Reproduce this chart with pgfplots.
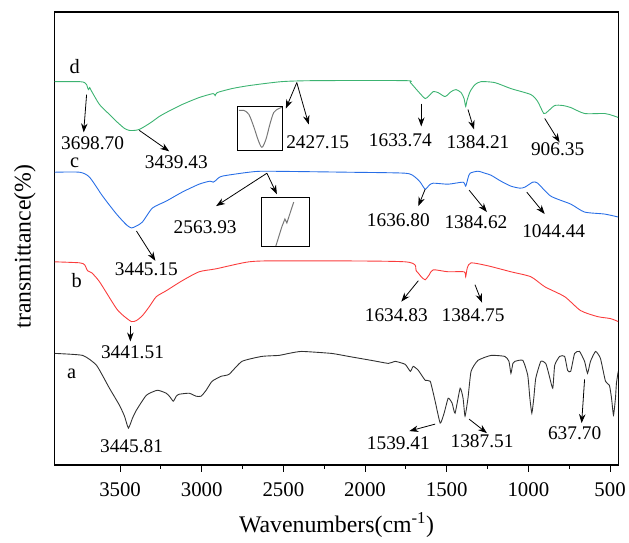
\documentclass[border=0pt]{standalone}
\usepackage{pgfplots}
\pgfplotsset{compat=1.18}
\usepackage{fontspec}
\setmainfont{Liberation Serif}
\usetikzlibrary{arrows.meta}
\definecolor{cd}{RGB}{60,179,113}
\definecolor{cc}{RGB}{40,110,230}
\definecolor{cb}{RGB}{250,60,60}
\definecolor{ca}{RGB}{50,50,50}
\definecolor{cins}{RGB}{120,120,120}
\tikzset{
  annot/.style={font=\fontsize{19.5}{23}\selectfont, inner sep=0pt, anchor=center},
  lett/.style={font=\fontsize{20.5}{24}\selectfont, inner sep=0pt, anchor=center},
  arr/.style={-{Stealth[length=9bp,width=6.5bp]}, line width=0.8bp, black},
}
\begin{document}
\begin{tikzpicture}
\begin{axis}[
  scale only axis, width=566bp, height=455bp,
  x dir=reverse, xmin=450, xmax=3900, ymin=0, ymax=455,
  xtick={500,1000,...,3500}, minor x tick num=1,
  ytick=\empty, xtick pos=bottom, tick align=outside,
  major tick length=7bp, minor tick length=4bp,
  every tick/.style={black, line width=1bp},
  axis line style={line width=1.2bp},
  /pgf/number format/assume math mode=true,
  /pgf/number format/1000 sep={},
  xticklabel style={font=\fontsize{21}{24}\selectfont, anchor=base, yshift=-25bp},
  clip=true,
]
% curve d
\addplot[cd, line width=0.9bp, smooth, tension=0.4] coordinates {
(3900,385)(3748,385)(3717,384)(3705,382)(3697,378)(3693,377)(3686,379)(3680,377)
(3626,362)(3565,352)(3522,345)(3473,338)(3443,336)(3412,336)(3382,337)(3339,341)(3302,345)(3260,350)(3217,354)
(3120,362)(3016,369)(2930,373)(2918,371)(2905,374)(2815,378)(2711,381)(2510,385)
(2302,386)(1754,386)(1723,384)(1674,375)(1632,368)(1607,371)(1583,375)(1553,374)
(1510,370)(1473,375)(1443,377)(1412,374)(1394,368)(1384,360)(1376,366)(1357,375)
(1327,382)(1290,385)(1205,384)(1107,378)(985,372)(943,365)(906,353)(882,355)
(839,361)(790,361)(741,359)(656,353)(534,353)(485,351)(450,349)};
% curve c
\addplot[cc, line width=0.9bp, smooth, tension=0.4] coordinates {
(3900,294)(3748,294)(3687,289)(3607,270)(3522,252)(3460,241)(3430,238)(3400,240)(3363,244)(3302,258)
(3217,265)(3120,274)(3016,282)(2950,285)(2930,284)(2912,286)(2876,290)(2711,294)
(2607,295)(2101,294)(1754,293)(1693,289)(1662,284)(1632,277)(1607,281)(1583,283)
(1491,282)(1400,284)(1384,280)(1370,288)(1357,293)(1309,295)(1266,293)(1229,291)
(1168,285)(1107,280)(1052,278)(1022,279)(973,284)(943,283)(863,270)(741,262)
(656,254)(534,252)(450,249)};
% curve b
\addplot[cb, line width=0.9bp, smooth, tension=0.4] coordinates {
(3900,204)(3748,203)(3717,201)(3699,195)(3674,193)(3626,184)(3522,157)(3473,149)
(3430,144)(3400,145)(3363,150)(3321,159)(3278,169)(3217,175)(3120,185)(3016,194)
(2912,197)(2711,204)(2510,205)(1754,204)(1687,195)(1656,189)(1632,186)(1607,191)
(1583,196)(1491,194)(1394,194)(1384,189)(1374,198)(1351,203)(1248,200)(1107,194)
(985,189)(900,179)(778,169)(680,155)(577,149)(498,147)(450,144)};
% curve a
\addplot[ca, line width=0.9bp, smooth, tension=0.3] coordinates {
(3900,112)(3729,110)(3644,100)(3565,77)(3504,60)(3473,49)(3449,37)(3424,47)
(3400,55)(3339,70)(3272,75)(3217,72)(3193,68)(3174,64)(3156,69)(3138,71)
(3077,72)(3034,69)(3004,69)(2973,75)(2937,84)(2882,89)(2833,91)(2754,104)
(2632,109)(2528,110)(2467,112)(2388,114)(2205,112)(2101,109)(1961,105)(1857,102)
(1815,104)(1754,101)(1723,94)(1705,99)(1674,95)(1632,85)(1601,84)(1571,64)
(1540,42)(1516,52)(1491,67)(1467,62)(1449,52)(1418,77)(1400,67)(1388,49)
(1370,67)(1351,94)(1309,105)(1229,110)(1144,109)(1119,104)(1107,92)(1095,102)
(1083,104)(1034,105)(1004,90)(991,67)(979,52)(967,67)(955,87)(924,104)
(894,102)(876,92)(851,77)(839,100)(809,109)(778,109)(760,95)(741,94)
(717,112)(687,114)(656,104)(638,92)(620,104)(589,114)(559,107)(528,84)
(504,80)(491,67)(479,50)(467,67)(461,82)(450,94)};
% inset curves
\addplot[cins, line width=1bp, smooth, tension=0.5] coordinates {
(2772,356)(2741,356)(2711,352)(2680,339)(2656,327)(2632,319)(2607,327)(2583,342)(2559,354)(2528,358)(2510,359)};
\addplot[cins, line width=1bp] coordinates {
(2546,220)(2510,239)(2491,247)(2479,243)(2467,249)(2437,264)};
\draw[line width=0.8bp] (axis cs:2784,316) rectangle (axis cs:2504,360);
\draw[line width=0.8bp] (axis cs:2632,219) rectangle (axis cs:2339,269);
% letters
\node[lett] at (axis cs:3778,400) {d};
\node[lett] at (axis cs:3778,303) {c};
\node[lett] at (axis cs:3766,185) {b};
\node[lett] at (axis cs:3796,92) {a};
% annotation texts
\node[annot] at (axis cs:3668,323) {3698.70};
\node[annot] at (axis cs:3156,304) {3439.43};
\node[annot] at (axis cs:2290,324) {2427.15};
\node[annot] at (axis cs:2979,239) {2563.93};
\node[annot] at (axis cs:3339,197) {3445.15};
\node[annot] at (axis cs:3424,113) {3441.51};
\node[annot] at (axis cs:3430,19) {3445.81};
\node[annot] at (axis cs:1784,326) {1633.74};
\node[annot] at (axis cs:1309,324) {1384.21};
\node[annot] at (axis cs:821,317) {906.35};
\node[annot] at (axis cs:1796,246) {1636.80};
\node[annot] at (axis cs:1321,244) {1384.62};
\node[annot] at (axis cs:845,235) {1044.44};
\node[annot] at (axis cs:1809,150) {1634.83};
\node[annot] at (axis cs:1339,150) {1384.75};
\node[annot] at (axis cs:1796,22) {1539.41};
\node[annot] at (axis cs:1284,24) {1387.51};
\node[annot] at (axis cs:717,32) {637.70};
% arrows
\draw[arr] (axis cs:3705,372) -- (axis cs:3723,334);
\draw[arr] (axis cs:3382,336) -- (axis cs:3199,315);
\draw[arr] (axis cs:2418,384) -- (axis cs:2485,358);
\draw[arr] (axis cs:2418,384) -- (axis cs:2345,342);
\draw[arr] (axis cs:2601,293) -- (axis cs:2912,260);
\draw[arr] (axis cs:2601,293) -- (axis cs:2540,272);
\draw[arr] (axis cs:3400,235) -- (axis cs:3284,205);
\draw[arr] (axis cs:3437,140) -- (axis cs:3437,124);
\draw[arr] (axis cs:1656,363) -- (axis cs:1656,340);
\draw[arr] (axis cs:1370,357) -- (axis cs:1333,337);
\draw[arr] (axis cs:900,348) -- (axis cs:809,324);
\draw[arr] (axis cs:1632,277) -- (axis cs:1674,260);
\draw[arr] (axis cs:1363,276) -- (axis cs:1254,254);
\draw[arr] (axis cs:1010,274) -- (axis cs:900,252);
\draw[arr] (axis cs:1674,185) -- (axis cs:1778,164);
\draw[arr] (axis cs:1327,181) -- (axis cs:1284,163);
\draw[arr] (axis cs:1571,41) -- (axis cs:1729,34);
\draw[arr] (axis cs:1363,46) -- (axis cs:1254,32);
\draw[arr] (axis cs:656,86) -- (axis cs:674,42);
\end{axis}
\node[rotate=90, inner sep=0pt, font=\fontsize{24}{28}\selectfont] at ([xshift=-30bp,yshift=-8bp]current axis.west) {transmittance(\%)};
\node[anchor=base, inner sep=0pt, font=\fontsize{24}{28}\selectfont] at ([yshift=-68bp]current axis.south) {Wavenumbers(cm\textsuperscript{-1})};
\path (current axis.south west) ++(-55bp,-78bp) rectangle ++(629bp,545bp);
\end{tikzpicture}
\end{document}
